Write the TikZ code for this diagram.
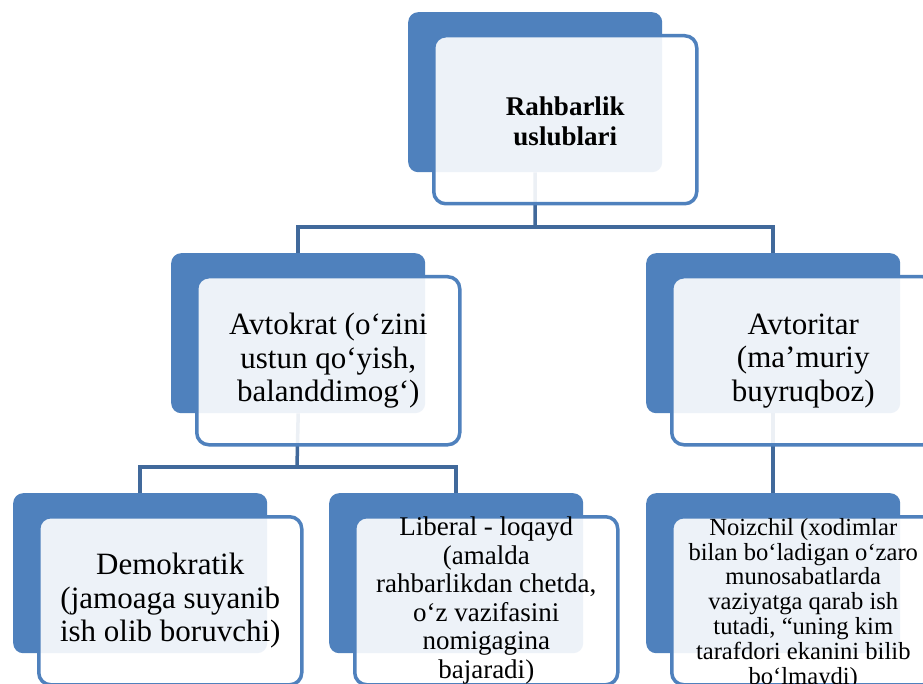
\documentclass[tikz,border=0pt]{standalone}
\usepackage{fontspec}
\setmainfont{Liberation Serif}
\definecolor{acc}{HTML}{4F81BD}
\definecolor{conncol}{HTML}{41699B}
\tikzset{
 backbox/.style={fill=acc, draw=none, rounded corners=10pt, minimum width=254pt, minimum height=160pt, anchor=north west, inner sep=0pt},
 frontbox/.style={draw=acc, line width=3.5pt, fill=white, fill opacity=0.9, draw opacity=1, rounded corners=12pt, minimum width=263pt, minimum height=168pt, anchor=north west, inner sep=0pt},
 connline/.style={draw=conncol, line width=3.5pt},
 lbl/.style={align=center, inner sep=0pt, text=black},
}
\begin{document}
\begin{tikzpicture}[x=1pt,y=-1pt]
\clip (0,0) rectangle (923,684);
\fill[white] (0,0) rectangle (923,684);
% back boxes
\node[backbox] (topb) at (408,12) {};
\node[backbox] (avkb) at (171,253) {};
\node[backbox] (avrb) at (646,253) {};
\node[backbox] (demb) at (13,493) {};
\node[backbox] (libb) at (329,493) {};
\node[backbox] (noib) at (646,493) {};
% connectors
\coordinate (j1) at (535,227);
\coordinate (j2) at (297,467);
\draw[connline] (topb.south) -- (j1);
\draw[connline] (j1) -| (avkb.north);
\draw[connline] (j1) -| (avrb.north);
\draw[connline] (avkb.south) -- (j2);
\draw[connline] (j2) -| (demb.north);
\draw[connline] (j2) -| (libb.north);
\draw[connline] (avrb.south) -- (noib.north);
% front boxes
\node[frontbox] (topf) at (432,34) {};
\node[frontbox] (avkf) at (195,275) {};
\node[frontbox] (avrf) at (670,275) {};
\node[frontbox] (demf) at (37,515) {};
\node[frontbox] (libf) at (353,515) {};
\node[frontbox] (noif) at (670,515) {};
% labels
\node[lbl, font=\fontsize{27}{30}\selectfont\bfseries] (topt) at ([yshift=-2pt]topf.center) {Rahbarlik\\uslublari};
\node[lbl, font=\fontsize{31}{33.5}\selectfont] (avkt) at (avkf.center) {Avtokrat (o‘zini\\ustun qo‘yish,\\balanddimog‘)};
\node[lbl, font=\fontsize{31}{33.5}\selectfont] (avrt) at (avrf.center) {Avtoritar\\(ma’muriy\\buyruqboz)};
\node[lbl, font=\fontsize{31}{33.5}\selectfont] (demt) at (demf.center) {Demokratik\\(jamoaga suyanib\\ish olib boruvchi)};
\node[lbl, font=\fontsize{27}{28.5}\selectfont] (libt) at (libf.center) {Liberal - loqayd\\(amalda\\rahbarlikdan chetda,\\o‘z vazifasini\\nomigagina\\bajaradi)};
\node[lbl, font=\fontsize{24.6}{24.8}\selectfont] (noit) at ([yshift=-3pt]noif.center) {Noizchil (xodimlar\\bilan bo‘ladigan o‘zaro\\munosabatlarda\\vaziyatga qarab ish\\tutadi, “uning kim\\tarafdori ekanini bilib\\bo‘lmaydi)};
\end{tikzpicture}
\end{document}
